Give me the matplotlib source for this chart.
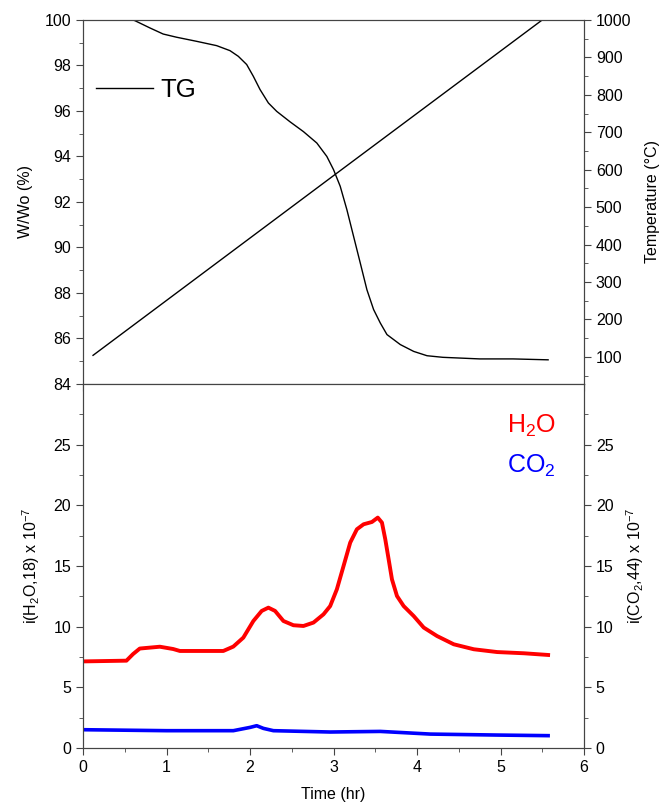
import matplotlib
matplotlib.use('Agg')
import matplotlib.pyplot as plt
import numpy as np

plt.rcParams['font.family'] = ['Liberation Sans', 'DejaVu Sans']
plt.rcParams['mathtext.default'] = 'regular'

# TG 곡선 (time hr, W/Wo %)
tg_t = [0.0, 0.3, 0.62, 0.80, 0.96, 1.12, 1.36, 1.60, 1.76, 1.86, 1.96, 2.04, 2.12,
        2.22, 2.32, 2.48, 2.64, 2.80, 2.92, 3.00, 3.08, 3.16, 3.24, 3.32, 3.40, 3.48,
        3.56, 3.64, 3.80, 3.96, 4.12, 4.31, 4.75, 5.15, 5.57]
tg_w = [100.6, 100.3, 99.97, 99.65, 99.38, 99.24, 99.06, 98.87, 98.65, 98.40, 98.04,
        97.52, 96.94, 96.35, 95.98, 95.52, 95.09, 94.59, 94.0, 93.42, 92.69, 91.66,
        90.49, 89.32, 88.14, 87.27, 86.68, 86.17, 85.73, 85.43, 85.24, 85.17, 85.10,
        85.10, 85.06]

# 온도
temp_t = [0.12, 3.0, 5.5]
temp_c = [104, 584, 1000]

# H2O (m/z 18)
h2o_t = [0.0, 0.52, 0.60, 0.68, 0.92, 1.08, 1.16, 1.68, 1.80, 1.92, 2.04, 2.14, 2.22,
         2.30, 2.40, 2.52, 2.64, 2.76, 2.88, 2.96, 3.04, 3.12, 3.20, 3.28, 3.36, 3.46,
         3.53, 3.58, 3.62, 3.66, 3.70, 3.76, 3.84, 3.96, 4.08, 4.24, 4.44, 4.68, 4.96,
         5.28, 5.57]
h2o_i = [7.14, 7.2, 7.75, 8.2, 8.35, 8.16, 8.0, 8.0, 8.36, 9.10, 10.47, 11.3, 11.57,
         11.3, 10.47, 10.12, 10.06, 10.34, 11.02, 11.7, 13.08, 15.0, 16.93, 18.03, 18.44,
         18.63, 18.99, 18.58, 17.2, 15.56, 13.9, 12.53, 11.7, 10.88, 9.93, 9.23, 8.55,
         8.14, 7.91, 7.81, 7.67]

# CO2 (m/z 44)
co2_t = [0.0, 1.0, 1.80, 2.0, 2.08, 2.16, 2.28, 2.96, 3.56, 4.16, 4.96, 5.57]
co2_i = [1.51, 1.43, 1.43, 1.7, 1.84, 1.62, 1.43, 1.32, 1.37, 1.15, 1.07, 1.02]

sp_col = '#444444'

fig = plt.figure(figsize=(6.62, 8.10), dpi=100)
ax1 = fig.add_axes([0.1254, 0.526, 0.7568, 0.4494])
ax3 = fig.add_axes([0.1254, 0.0765, 0.7568, 0.4494])

# ---- 위쪽: TG
ax1.plot(tg_t, tg_w, color='black', lw=1.0, label='TG')
ax1.set_xlim(0, 6)
ax1.set_ylim(84, 100)
ax1.set_yticks(np.arange(84, 101, 2))
ax1.set_yticks(np.arange(85, 100, 2), minor=True)
ax1.set_xticks(np.arange(0, 7, 1))
ax1.set_xticks(np.arange(0.5, 6, 1), minor=True)
ax1.tick_params(axis='x', which='both', labelbottom=False, direction='out')
ax1.set_ylabel('W/Wo (%)', fontsize=11.5, labelpad=8)
ax1.legend(loc='upper left', bbox_to_anchor=(-0.02, 0.903), frameon=False,
           fontsize=18.5, handlelength=2.2, handletextpad=0.32)

ax2 = ax1.twinx()
ax2.plot(temp_t, temp_c, color='black', lw=1.0)
ax2.set_ylim(27.6, 1000)
ax2.set_yticks(np.arange(100, 1001, 100))
ax2.set_yticks(np.arange(50, 1000, 100), minor=True)
ax2.set_ylabel('Temperature (°C)', fontsize=11.5, labelpad=10)

# ---- 아래쪽: MS
ax3.plot(h2o_t, h2o_i, color='#ff0000', lw=2.8)
ax3.plot(co2_t, co2_i, color='#0000ff', lw=2.6)
ax3.set_xlim(0, 6)
ax3.set_ylim(0, 30)
ax3.set_yticks(np.arange(0, 26, 5))
ax3.set_yticks(np.arange(2.5, 30, 5), minor=True)
ax3.set_xticks(np.arange(0, 7, 1))
ax3.set_xticks(np.arange(0.5, 6, 1), minor=True)
ax3.set_xlabel('Time (hr)', fontsize=11.5, labelpad=9)
ax3.set_ylabel('i(H$_2$O,18) x 10$^{-7}$', fontsize=11.5, labelpad=8)
ax3.text(0.846, 0.865, 'H$_2$O', color='#ff0000', fontsize=18, transform=ax3.transAxes)
ax3.text(0.846, 0.755, 'CO$_2$', color='#0000ff', fontsize=18, transform=ax3.transAxes)

ax4 = ax3.twinx()
ax4.set_ylim(0, 30)
ax4.set_yticks(np.arange(0, 26, 5))
ax4.set_yticks(np.arange(2.5, 30, 5), minor=True)
ax4.set_ylabel('i(CO$_2$,44) x 10$^{-7}$', fontsize=11.5, labelpad=8)

for ax in [ax1, ax2, ax3, ax4]:
    for s in ax.spines.values():
        s.set_color(sp_col)
    ax.tick_params(which='major', length=5, color=sp_col, labelsize=11.5)
    ax.tick_params(which='minor', length=3, color=sp_col)
ax3.spines['top'].set_visible(False)

fig.savefig('out.png', dpi=100)
